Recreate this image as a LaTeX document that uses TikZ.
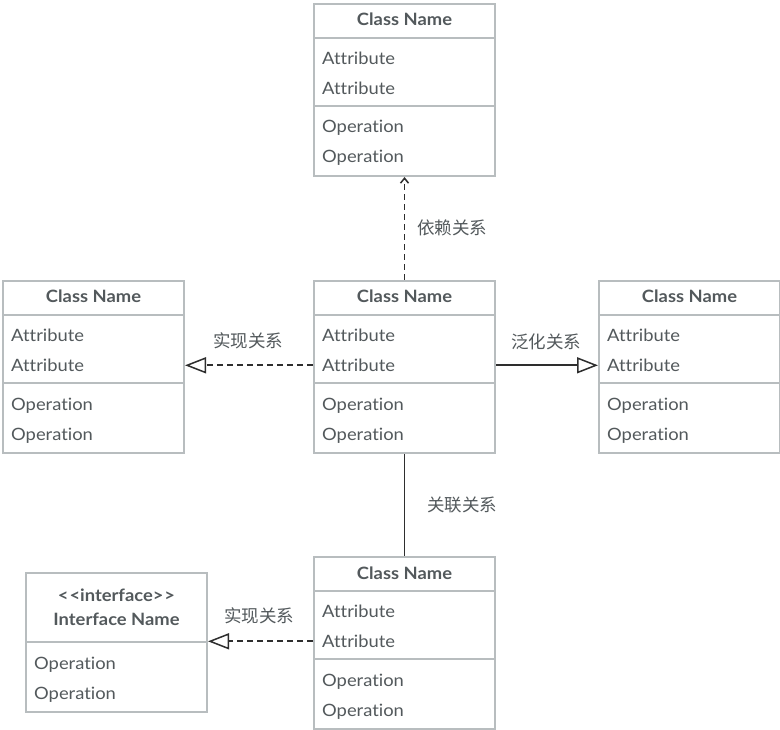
\documentclass[tikz,border=0pt]{standalone}
\usepackage{fontspec}
\setmainfont{Lato}[FakeStretch=1.08, Ligatures={NoCommon}]
\newfontfamily\cjk{Noto Sans CJK SC}
\usetikzlibrary{arrows.meta}
\definecolor{boxline}{HTML}{B8BDBF}
\definecolor{txt}{HTML}{53595C}
\definecolor{conn}{HTML}{2E2E2E}
\tikzset{
  classbox/.style={draw=boxline, line width=2pt, fill=white, anchor=north west, minimum width=181pt, inner sep=0pt},
  sepline/.style={draw=boxline, line width=2pt},
  ttl/.style={font=\fontsize{17}{20}\selectfont\bfseries, text=txt, inner sep=0pt, anchor=base},
  itm/.style={font=\fontsize{17}{20}\selectfont, text=txt, anchor=base west, inner sep=0pt},
  lbl/.style={font=\cjk\fontsize{17.5}{20}\selectfont, text=txt, inner sep=0pt},
  conline/.style={draw=conn, line width=1.7pt},
  dashline/.style={conline, dash pattern=on 6pt off 4pt},
  realize/.style={-{Triangle[open, length=21pt, width=16pt, line width=1.5pt]}},
  depend/.style={-{Straight Barb[length=5pt, width=8pt, line width=1.5pt]}}
}
\newcommand\umlclass[3]{%
  \node[classbox, minimum height=172pt] (#1) at (#2,#3) {};
  \draw[sepline] ([yshift=-35pt]#1.north west) -- ([yshift=-35pt]#1.north east);
  \draw[sepline] ([yshift=-103pt]#1.north west) -- ([yshift=-103pt]#1.north east);
  \node[ttl] (#1t) at ([yshift=-23pt]#1.north) {Class Name};
  \node[itm] (#1a1) at ([xshift=9pt,yshift=-61.5pt]#1.north west) {Attribute};
  \node[itm] (#1a2) at ([xshift=9pt,yshift=-91.5pt]#1.north west) {Attribute};
  \node[itm] (#1o1) at ([xshift=9pt,yshift=-130pt]#1.north west) {Operation};
  \node[itm] (#1o2) at ([xshift=9pt,yshift=-160pt]#1.north west) {Operation};
}
\begin{document}
\begin{tikzpicture}[x=1pt,y=-1pt]
\useasboundingbox[fill=white] (0,0) rectangle (780,730);
\umlclass{top}{313}{3}
\umlclass{mid}{313}{280}
\umlclass{lft}{2}{280}
\umlclass{rgt}{598}{280}
\umlclass{bot}{313}{556}
% interface
\node[classbox, minimum height=139pt] (ifc) at (25,572) {};
\draw[sepline] ([yshift=-70pt]ifc.north west) -- ([yshift=-70pt]ifc.north east);
\node[ttl] (ifcs) at ([yshift=-29pt]ifc.north) {<\kern1pt<interface>\kern1pt>};
\node[ttl] (ifct) at ([yshift=-53pt]ifc.north) {Interface Name};
\node[itm] (ifco1) at ([xshift=9pt,yshift=-97pt]ifc.north west) {Operation};
\node[itm] (ifco2) at ([xshift=9pt,yshift=-127pt]ifc.north west) {Operation};
% connectors
\draw[dashline, depend] (mid.north) -- (top.south);
\node[lbl] (l1) at (452,228) {依赖关系};
\draw[dashline, realize] (mid.west |- mida2) -- (lft.east |- mida2);
\node[lbl] (l2) at (248,341) {实现关系};
\draw[conline, realize] (mid.east |- mida2) -- (rgt.west |- mida2);
\node[lbl] (l3) at (546,342) {泛化关系};
\draw[conline] (mid.south) -- (bot.north);
\node[lbl] (l4) at (462,505) {关联关系};
\draw[dashline, realize] (bot.west |- bota2) -- (ifc.east |- bota2);
\node[lbl] (l5) at (259,616) {实现关系};
\end{tikzpicture}
\end{document}
